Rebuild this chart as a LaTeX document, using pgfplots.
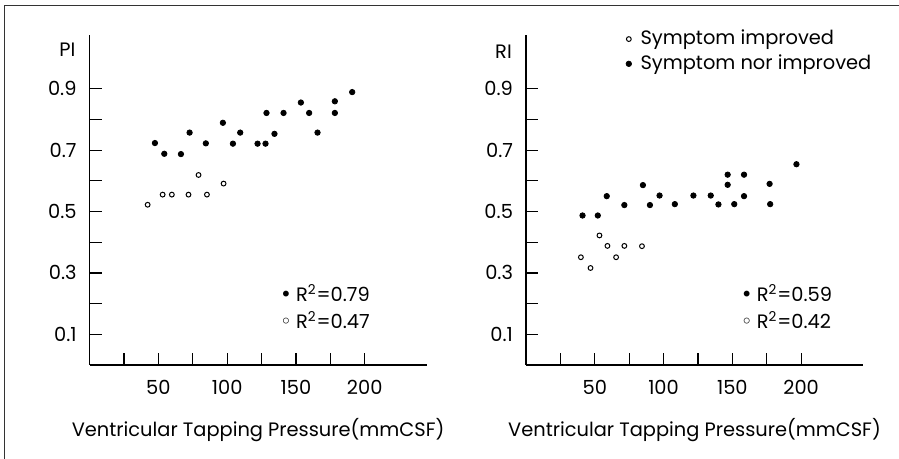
\documentclass[border=0pt]{standalone}
\usepackage{fontspec}
\setmainfont{Poppins}
\newfontfamily\symfont{DejaVu Sans}
\usepackage{pgfplots}
\pgfplotsset{compat=1.18}

% 1 px of the reference = 0.5pt
\newcommand\chartfont{\fontsize{9.7}{11.5}\selectfont}
\pgfplotsset{vtp/.style={
  scale only axis, width=168.5pt, height=165pt,
  xmin=0, xmax=245, ymin=0, ymax=1.075,
  clip mode=individual,
  axis x line*=bottom, axis y line*=left,
  axis line style={line width=0.6pt, -},
  tick align=inside, major tick length=6pt,
  tick style={line width=0.6pt, black},
  xtick pos=bottom, ytick pos=left,
  xtick={25,50,75,100,125,150,175,200}, xticklabels={,50,,100,,150,,200},
  ytick={0.1,0.2,0.3,0.4,0.5,0.6,0.7,0.8,0.9}, yticklabels={0.1,,0.3,,0.5,,0.7,,0.9},
  /pgf/number format/assume math mode=true,
  tick label style={font=\chartfont},
  xticklabel style={yshift=-4pt},
  yticklabel style={xshift=-3pt},
  label style={font=\chartfont},
  xlabel={Ventricular Tapping Pressure(mmCSF)},
  xlabel style={at={(axis description cs:0.5,-0.197)}, anchor=center},
  filled/.style={only marks, mark=*, mark size=1.35pt, black},
  hollow/.style={only marks, mark=o, mark size=1.2pt, mark options={line width=0.5pt}, black},
}}

\begin{document}
\begin{tikzpicture}
\useasboundingbox (0,0) rectangle (449.5pt,229.5pt);
\draw[line width=0.5pt, black!80] (2.2pt,0pt) -- (2.2pt,226.8pt) -- (449.5pt,226.8pt);

\begin{axis}[vtp, at={(44.8pt,47pt)}, anchor=south west]
\addplot[filled] coordinates {(47.5,0.723) (54.3,0.688) (66.4,0.687) (72.7,0.757) (84.5,0.722) (96.9,0.789) (104.2,0.721) (109.5,0.757) (122.1,0.721) (127.9,0.721) (128.6,0.821) (134.4,0.753) (141.0,0.821) (153.6,0.855) (159.6,0.821) (165.7,0.757) (178.3,0.859) (178.3,0.821) (190.9,0.889)};
\addplot[hollow] coordinates {(42.2,0.522) (53.1,0.555) (59.8,0.555) (71.9,0.555) (79.2,0.619) (85.3,0.555) (97.4,0.591)};
\node[anchor=east, font=\chartfont, inner sep=0pt] at (axis description cs:-0.041,0.955) {PI};
\node[anchor=west, font=\chartfont, inner sep=0pt] at (axis cs:138.3,0.234) {{\symfont\fontsize{10}{10}\selectfont•}\hspace{2pt}R\textsuperscript{2}=0.79};
\node[anchor=west, font=\chartfont, inner sep=0pt] at (axis cs:138.3,0.147) {{\symfont\fontsize{10}{10}\selectfont◦}\hspace{2pt}R\textsuperscript{2}=0.47};
\end{axis}

\begin{axis}[vtp, at={(263pt,47pt)}, anchor=south west,
  legend style={at={(axis cs:72.5,1.105)}, anchor=north west, draw=none, fill=none,
    font=\chartfont, row sep=-0.5pt, inner sep=0pt, nodes={inner sep=2pt},
    /tikz/every odd column/.append style={column sep=2.5pt}},
  legend cell align=left]
\addplot[hollow] coordinates {(39.9,0.351) (46.9,0.316) (53.4,0.422) (59.2,0.388) (65.5,0.351) (71.5,0.388) (84.3,0.387)};
\addlegendentry{Symptom improved}
\addplot[filled] coordinates {(41.1,0.487) (52.2,0.487) (58.7,0.550) (71.5,0.521) (85.0,0.586) (90.1,0.521) (97.1,0.552) (108.2,0.524) (121.7,0.552) (134.3,0.552) (139.9,0.523) (146.6,0.587) (146.6,0.620) (151.4,0.524) (158.5,0.620) (158.5,0.550) (177.1,0.590) (177.5,0.524) (196.6,0.654)};
\addlegendentry{Symptom nor improved}
\node[anchor=east, font=\chartfont, inner sep=0pt] at (axis description cs:-0.041,0.950) {RI};
\node[anchor=west, font=\chartfont, inner sep=0pt] at (axis cs:156,0.234) {{\symfont\fontsize{10}{10}\selectfont•}\hspace{2pt}R\textsuperscript{2}=0.59};
\node[anchor=west, font=\chartfont, inner sep=0pt] at (axis cs:156,0.147) {{\symfont\fontsize{10}{10}\selectfont◦}\hspace{2pt}R\textsuperscript{2}=0.42};
\end{axis}
\end{tikzpicture}
\end{document}
